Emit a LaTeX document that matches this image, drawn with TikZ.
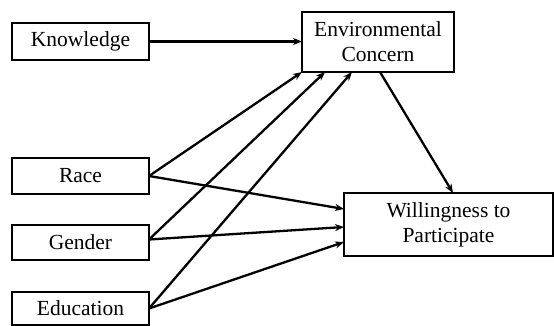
\documentclass[tikz,border=0pt]{standalone}
\usepackage{fontspec}
\setmainfont{Liberation Serif}
\usetikzlibrary{arrows.meta}
\begin{document}
\begin{tikzpicture}[x=1pt,y=-1pt,
  box/.style={draw,line width=2.7pt,rectangle,inner sep=0pt,outer sep=0pt,align=center,
    font=\fontsize{21.5}{25}\selectfont},
  arr/.style={line width=2.3pt,-{Stealth[length=9pt,width=7pt]}}]
\useasboundingbox (0,0) rectangle (554,326);
\node[box,minimum width=137pt,minimum height=37pt] (know) at (80.5,41.5) {Knowledge};
\node[box,minimum width=152pt,minimum height=60pt] (env) at (378,42) {Environmental\\Concern};
\node[box,minimum width=137pt,minimum height=36pt] (race) at (80.5,176) {Race};
\node[box,minimum width=137pt,minimum height=35pt] (gender) at (80.5,242.5) {Gender};
\node[box,minimum width=137pt,minimum height=33pt] (edu) at (80.5,308.5) {Education};
\node[box,minimum width=209pt,minimum height=63pt] (will) at (448.5,224.5) {Willingness to\\Participate};
\draw[arr] (know.east) -- (env.west |- know.east);
\draw[arr] (race.east) -- (env.south west);
\draw[arr] ([yshift=3pt]gender.east) -- ([xshift=23pt]env.south west);
\draw[arr] (edu.east) -- ([xshift=50pt]env.south west);
\draw[arr] ([xshift=2pt]env.south) -- ([xshift=4.5pt]will.north);
\draw[arr] (race.east) -- ([yshift=15.5pt]will.west);
\draw[arr] ([yshift=3pt]gender.east) -- ([yshift=-2.5pt]will.west);
\draw[arr] (edu.east) -- ([yshift=-17.5pt]will.west);
\end{tikzpicture}
\end{document}
